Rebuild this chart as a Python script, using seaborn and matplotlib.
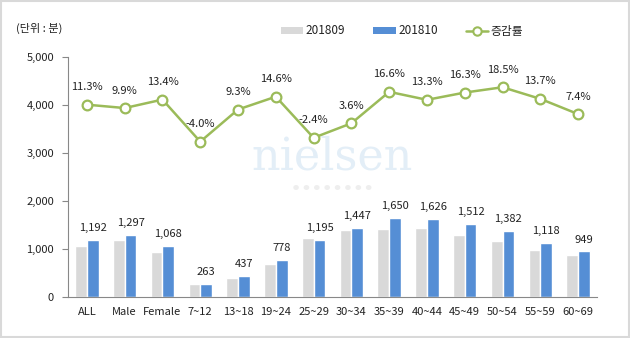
import matplotlib
matplotlib.use("Agg")
import matplotlib.pyplot as plt
import seaborn as sns
import pandas as pd
import numpy as np
from matplotlib.patches import Patch, Rectangle
from matplotlib.lines import Line2D

categories = ["ALL", "Male", "Female", "7~12", "13~18", "19~24", "25~29", "30~34",
              "35~39", "40~44", "45~49", "50~54", "55~59", "60~69"]
sep2018 = [1071, 1180, 942, 274, 400, 679, 1224, 1397, 1415, 1435, 1300, 1166, 983, 884]
oct2018 = [1192, 1297, 1068, 263, 437, 778, 1195, 1447, 1650, 1626, 1512, 1382, 1118, 949]
rate = [11.3, 9.9, 13.4, -4.0, 9.3, 14.6, -2.4, 3.6, 16.6, 13.3, 16.3, 18.5, 13.7, 7.4]
series_names = ["201809", "201810"]
line_name = "증감률"

sns.set_theme(style="white")
plt.rcParams['font.family'] = ['Noto Sans CJK KR', 'DejaVu Sans']

GRAY = "#D9D9D9"
BLUE = "#558ED5"
GREEN = "#9BBB59"
TXT = "#222222"
FS = 8

df = pd.DataFrame({
    "cat": categories * 2,
    "val": sep2018 + oct2018,
    "series": [series_names[0]] * len(categories) + [series_names[1]] * len(categories),
})

fig = plt.figure(figsize=(6.3, 3.38), dpi=100)
ax = fig.add_axes([68 / 630, 1 - 297 / 338, (597 - 68) / 630, (297 - 57) / 338])

sns.barplot(data=df, x="cat", y="val", hue="series", order=categories,
            hue_order=series_names, palette=[GRAY, BLUE], width=0.62, gap=0,
            saturation=1, ax=ax, legend=False, errorbar=None)

ax.set_ylim(0, 5000)
ax.set_xlim(-0.5, len(categories) - 0.5)
ax.set_yticks(np.arange(0, 5001, 1000))
ax.set_yticklabels([f"{v:,}" for v in range(0, 5001, 1000)], fontsize=FS, color=TXT)
ax.set_xticks(range(len(categories)))
ax.set_xticklabels(categories, fontsize=FS, color=TXT)
ax.set_xticks(np.arange(-0.5, len(categories), 1), minor=True)
ax.tick_params(axis="x", which="major", length=0, pad=7)
ax.tick_params(axis="x", which="minor", length=4, color="#888888", width=0.8, direction="out")
ax.tick_params(axis="y", which="major", length=4, color="#888888", width=0.8, direction="out", left=True, pad=6)
ax.set_xlabel("")
ax.set_ylabel("")
for s in ["top", "right"]:
    ax.spines[s].set_visible(False)
for s in ["left", "bottom"]:
    ax.spines[s].set_color("#888888")
    ax.spines[s].set_linewidth(0.8)

# bar labels on the 201810 bars
for cont, name in zip(ax.containers, series_names):
    if name == "201810":
        ax.bar_label(cont, labels=[f"{v:,}" for v in oct2018], padding=5,
                     fontsize=FS, color=TXT)

# watermark
ax.text(0.5, 0.585, "nielsen", transform=ax.transAxes, ha="center", va="center",
        fontsize=32, family="DejaVu Serif", color="#E3EEF7", zorder=0)
ax.text(0.5, 0.455, "●   ●   ●   ●   ●   ●   ●   ●", transform=ax.transAxes, ha="center",
        va="center", fontsize=4.5, color="#EEEEEE", zorder=0)

# growth rate line on secondary axis
ax2 = ax.twinx()
ldf = pd.DataFrame({"x": np.arange(len(categories)), "rate": rate})
sns.lineplot(data=ldf, x="x", y="rate", ax=ax2, color=GREEN, linewidth=1.8,
             marker="o", markersize=7, markerfacecolor="white",
             markeredgecolor=GREEN, markeredgewidth=1.6)
ax2.set_ylim(-68.2, 31.0)
ax2.set_axis_off()
for i, r in enumerate(rate):
    ax2.annotate(f"{r:.1f}%", (i, r), xytext=(0, 9), textcoords="offset points",
                 ha="center", va="bottom", fontsize=FS, color=TXT)

# unit label
fig.text(16 / 630, 1 - 28 / 338, "(단위 : 분)", fontsize=FS, color=TXT, va="center")

# legend
handles = [Patch(facecolor=GRAY, edgecolor="none"),
           Patch(facecolor=BLUE, edgecolor="none"),
           Line2D([0], [0], color=GREEN, lw=1.8, marker="o", markersize=6,
                  markerfacecolor="white", markeredgecolor=GREEN, markeredgewidth=1.5)]
fig.legend(handles, series_names + [line_name], loc="center left",
           bbox_to_anchor=(270 / 630, 1 - 31 / 338), ncol=3, frameon=False,
           fontsize=FS + 0.5, handlelength=1.9, handleheight=0.55, handletextpad=0.2,
           columnspacing=2.4, labelcolor=TXT)

# outer border
fig.patches.append(Rectangle((0.001, 0.002), 0.997, 0.995, transform=fig.transFigure,
                             fill=False, edgecolor="#D9D9D9", linewidth=1.5))

fig.savefig("out.png", dpi=100)
